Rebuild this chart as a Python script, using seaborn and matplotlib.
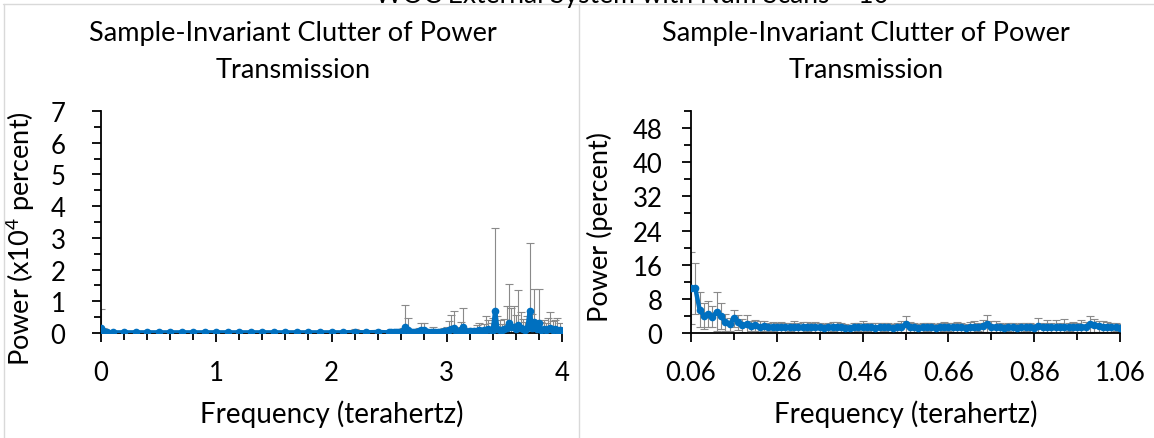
import numpy as np
import pandas as pd
import matplotlib
matplotlib.use("Agg")
import matplotlib.pyplot as plt
from matplotlib.ticker import MultipleLocator, FixedLocator
from matplotlib.lines import Line2D
import seaborn as sns

# ---------------- data ----------------
SUPTITLE = "WOC External System with Num Scans = 10"
PANEL_TITLE = "Sample-Invariant Clutter of Power\nTransmission"
XLABEL = "Frequency (terahertz)"
YLABEL_LEFT = r"Power (x10$^{4}$ percent)"
YLABEL_RIGHT = "Power (percent)"

left_freq = [0.00, 0.02, 0.05, 0.10, 0.20, 0.30, 0.40, 0.50, 0.60, 0.70, 0.80, 0.90,
             1.00, 1.10, 1.20, 1.30, 1.40, 1.50, 1.60, 1.70, 1.80, 1.90, 2.00, 2.10,
             2.20, 2.30, 2.40,
             2.50, 2.52, 2.54, 2.56, 2.58, 2.60, 2.62, 2.64, 2.66, 2.68, 2.70, 2.72,
             2.74, 2.76, 2.78, 2.80, 2.82, 2.84, 2.86, 2.88, 2.90, 2.92, 2.94, 2.96,
             2.98, 3.00, 3.02, 3.04, 3.06, 3.08, 3.10, 3.12, 3.14, 3.16, 3.18, 3.20,
             3.22, 3.24, 3.26, 3.28, 3.30, 3.32, 3.34, 3.36, 3.38, 3.40, 3.42, 3.44,
             3.46, 3.48, 3.50, 3.52, 3.54, 3.56, 3.58, 3.60, 3.62, 3.64, 3.66, 3.68,
             3.70, 3.72, 3.74, 3.76, 3.78, 3.80, 3.82, 3.84, 3.86, 3.88, 3.90, 3.92,
             3.94, 3.96, 3.98, 4.00]
left_power = [0.15, 0.05, 0.02, 0.02, 0.02, 0.02, 0.02, 0.02, 0.02, 0.02, 0.02, 0.02,
              0.02, 0.02, 0.02, 0.02, 0.02, 0.02, 0.02, 0.02, 0.02, 0.02, 0.02, 0.02,
              0.03, 0.02, 0.03,
              0.02, 0.02, 0.02, 0.03, 0.02, 0.03, 0.05, 0.20, 0.10, 0.03, 0.02, 0.03,
              0.02, 0.05, 0.08, 0.10, 0.03, 0.02, 0.03, 0.04, 0.02, 0.03, 0.02, 0.04,
              0.05, 0.06, 0.10, 0.14, 0.16, 0.06, 0.04, 0.10, 0.20, 0.05, 0.04, 0.05,
              0.03, 0.05, 0.06, 0.08, 0.05, 0.08, 0.10, 0.12, 0.08, 0.10, 0.70, 0.12,
              0.10, 0.08, 0.12, 0.15, 0.30, 0.20, 0.18, 0.12, 0.25, 0.15, 0.12, 0.10,
              0.15, 0.70, 0.15, 0.35, 0.12, 0.30, 0.10, 0.12, 0.08, 0.12, 0.15, 0.10,
              0.12, 0.08, 0.10, 0.05]
left_err = [0.60, 0.10, 0.02, 0.01, 0.01, 0.01, 0.01, 0.01, 0.01, 0.01, 0.01, 0.01,
            0.01, 0.01, 0.01, 0.01, 0.01, 0.01, 0.01, 0.01, 0.01, 0.01, 0.01, 0.01,
            0.10, 0.02, 0.08,
            0.02, 0.02, 0.02, 0.03, 0.02, 0.04, 0.10, 0.68, 0.38, 0.05, 0.04, 0.06,
            0.05, 0.12, 0.22, 0.20, 0.08, 0.05, 0.06, 0.14, 0.06, 0.05, 0.04, 0.08,
            0.10, 0.14, 0.28, 0.44, 0.52, 0.12, 0.08, 0.25, 0.60, 0.10, 0.08, 0.12,
            0.06, 0.10, 0.20, 0.24, 0.12, 0.20, 0.44, 0.30, 0.22, 0.36, 2.60, 0.42,
            0.30, 0.20, 0.32, 0.70, 1.25, 0.60, 0.66, 0.45, 1.10, 0.50, 0.32, 0.25,
            0.40, 2.15, 0.45, 1.05, 0.30, 1.10, 0.25, 0.30, 0.22, 0.35, 0.50, 0.28,
            0.30, 0.40, 0.22, 0.15]

right_freq = [0.06, 0.07, 0.08, 0.09, 0.10, 0.11, 0.12, 0.13, 0.14, 0.15, 0.16, 0.17,
              0.18, 0.19, 0.20, 0.21, 0.22, 0.23, 0.24, 0.25, 0.26, 0.27, 0.28, 0.29,
              0.30, 0.31, 0.32, 0.33, 0.34, 0.35, 0.36, 0.37, 0.38, 0.39, 0.40, 0.41,
              0.42, 0.43, 0.44, 0.45, 0.46, 0.47, 0.48, 0.49, 0.50, 0.51, 0.52, 0.53,
              0.54, 0.55, 0.56, 0.57, 0.58, 0.59, 0.60, 0.61, 0.62, 0.63, 0.64, 0.65,
              0.66, 0.67, 0.68, 0.69, 0.70, 0.71, 0.72, 0.73, 0.74, 0.75, 0.76, 0.77,
              0.78, 0.79, 0.80, 0.81, 0.82, 0.83, 0.84, 0.85, 0.86, 0.87, 0.88, 0.89,
              0.90, 0.91, 0.92, 0.93, 0.94, 0.95, 0.96, 0.97, 0.98, 0.99, 1.00, 1.01,
              1.02, 1.03, 1.04, 1.05, 1.06]
right_power = [10.5, 10.5, 5.5, 4.0, 4.5, 3.8, 5.0, 4.0, 2.5, 2.0, 3.5, 2.5,
               1.8, 2.0, 1.6, 1.8, 1.5, 1.6, 1.4, 1.5, 1.3, 1.4, 1.3, 1.4,
               1.5, 1.3, 1.4, 1.5, 1.3, 1.4, 1.3, 1.2, 1.3, 1.5, 1.4, 1.3,
               1.2, 1.1, 1.3, 1.4, 1.5, 1.4, 1.3, 1.2, 1.3, 1.4, 1.3, 1.2,
               1.3, 1.5, 2.0, 1.4, 1.3, 1.2, 1.3, 1.4, 1.3, 1.2, 1.3, 1.5,
               1.4, 1.3, 1.4, 1.3, 1.2, 1.4, 1.5, 1.4, 1.6, 2.2, 1.5, 1.4,
               1.3, 1.2, 1.4, 1.3, 1.2, 1.3, 1.4, 1.3, 1.2, 1.6, 1.3, 1.5,
               1.3, 1.4, 1.3, 1.5, 1.4, 1.4, 1.3, 1.5, 1.4, 2.0, 1.8, 1.6,
               1.5, 1.4, 1.3, 1.4, 1.2]
right_err = [8.5, 6.0, 4.0, 3.0, 3.0, 2.5, 4.5, 3.0, 2.0, 1.5, 2.0, 1.8,
             1.5, 2.3, 1.2, 1.3, 1.2, 1.1, 1.0, 1.1, 1.0, 1.1, 1.0, 1.0,
             1.2, 1.0, 1.1, 1.0, 1.0, 1.2, 1.0, 0.9, 1.0, 1.0, 1.1, 1.0,
             0.9, 0.8, 1.0, 1.0, 1.2, 1.0, 1.0, 1.1, 1.0, 1.0, 1.0, 0.9,
             1.0, 1.2, 2.0, 1.1, 1.0, 0.9, 1.0, 1.0, 1.0, 0.9, 1.0, 1.1,
             1.0, 1.0, 1.1, 1.0, 0.9, 1.2, 1.3, 1.0, 1.4, 2.0, 1.2, 1.3,
             1.0, 0.9, 1.0, 1.0, 0.9, 1.0, 1.0, 1.0, 0.9, 1.9, 1.0, 1.5,
             1.0, 1.6, 1.0, 1.7, 1.0, 1.2, 1.0, 1.5, 1.2, 2.0, 1.5, 1.3,
             1.2, 1.1, 1.0, 1.0, 0.9]

left_xticks = [0, 1, 2, 3, 4]
left_yticks = [0, 1, 2, 3, 4, 5, 6, 7]
right_xticks = [0.06, 0.26, 0.46, 0.66, 0.86, 1.06]
right_yticks = [0, 8, 16, 24, 32, 40, 48]

# ---------------- style ----------------
sns.set_theme(style="white")
plt.rcParams["font.family"] = ["Lato", "DejaVu Sans"]
plt.rcParams["mathtext.fontset"] = "custom"
plt.rcParams["mathtext.rm"] = "Lato"
plt.rcParams["mathtext.it"] = "Lato:italic"
plt.rcParams["mathtext.bf"] = "Lato:bold"

BLUE = "#0070C0"
ERR = "#8a8a8a"
BORDER = "#d9d9d9"

W, H = 1154, 439
fig = plt.figure(figsize=(W / 100, H / 100), dpi=100)
fig.patch.set_facecolor("white")


def fx(px):
    return px / W


def fy(py):
    return 1 - py / H


axL = fig.add_axes([fx(101), fy(334), fx(562 - 101), (334 - 112) / H])
axR = fig.add_axes([fx(691), fy(334), fx(1120 - 691), (334 - 112) / H])

dfL = pd.DataFrame({"freq": left_freq, "power": left_power, "err": left_err})
dfR = pd.DataFrame({"freq": right_freq, "power": right_power, "err": right_err})

for ax, df in [(axL, dfL), (axR, dfR)]:
    ax.errorbar(df["freq"], df["power"], yerr=df["err"], fmt="none",
                ecolor=ERR, elinewidth=0.8, capsize=2.8, capthick=0.8, zorder=2)
    sns.lineplot(data=df, x="freq", y="power", ax=ax, color=BLUE, marker="o",
                 markersize=5.5, markeredgewidth=0, linewidth=3.2, errorbar=None,
                 zorder=3, legend=False)

# Left axis formatting
axL.set_xlim(0, 4)
axL.set_ylim(0, 7)
axL.xaxis.set_major_locator(FixedLocator(left_xticks))
axL.xaxis.set_minor_locator(MultipleLocator(0.2))
axL.yaxis.set_major_locator(FixedLocator(left_yticks))
axL.yaxis.set_minor_locator(MultipleLocator(0.5))
axL.set_xticklabels([str(t) for t in left_xticks])
axL.set_yticklabels([str(t) for t in left_yticks])

# Right axis formatting
axR.set_xlim(0.06, 1.06)
axR.set_ylim(0, 52)
axR.xaxis.set_major_locator(FixedLocator(right_xticks))
axR.xaxis.set_minor_locator(FixedLocator([0.16, 0.36, 0.56, 0.76, 0.96]))
axR.yaxis.set_major_locator(FixedLocator(right_yticks))
axR.yaxis.set_minor_locator(MultipleLocator(4))
axR.set_xticklabels([f"{t:.2f}" for t in right_xticks])
axR.set_yticklabels([str(t) for t in right_yticks])

for ax, ypad in [(axL, 19), (axR, 14)]:
    for side in ["top", "right"]:
        ax.spines[side].set_visible(False)
    for side in ["left", "bottom"]:
        ax.spines[side].set_color("black")
        ax.spines[side].set_linewidth(1.3)
    ax.set_facecolor("white")
    ax.grid(False)
    ax.tick_params(axis="both", which="major", direction="out", length=6.5,
                   width=1.3, color="black", labelsize=18.5, labelcolor="black")
    ax.tick_params(axis="both", which="minor", direction="out", length=5,
                   width=1.3, color="black")
    ax.tick_params(axis="x", which="major", pad=13)
    ax.tick_params(axis="y", which="major", pad=ypad)
    ax.tick_params(axis="both", which="both", bottom=True, left=True)
    ax.set_xlabel(XLABEL, fontsize=20, color="black", labelpad=10)
    ax.set_ylabel("")

axL.set_ylabel(YLABEL_LEFT, fontsize=19.5, color="black")
axL.yaxis.set_label_coords((37 - 101) / (562 - 101), 0.43)
axR.set_ylabel(YLABEL_RIGHT, fontsize=19.5, color="black")
axR.yaxis.set_label_coords((613 - 691) / (1120 - 691), 0.48)

# Panel titles
fig.text(fx(293), fy(52), PANEL_TITLE, ha="center", va="center", fontsize=19.5,
         color="black", linespacing=1.6)
fig.text(fx(866), fy(52), PANEL_TITLE, ha="center", va="center", fontsize=19.5,
         color="black", linespacing=1.6)

# Overall title, cut off at the top edge as in the reference
fig.text(fx(632), fy(3), SUPTITLE, ha="center", va="baseline", fontsize=19,
         color="black")

# Panel borders
fig.add_artist(Line2D([fx(3), fx(1154)], [fy(5), fy(5)], color=BORDER, lw=1))
fig.add_artist(Line2D([fx(4), fx(4)], [fy(5), fy(439)], color=BORDER, lw=1))
fig.add_artist(Line2D([fx(579), fx(579)], [fy(5), fy(439)], color=BORDER, lw=1))

fig.savefig("out.png", dpi=100, facecolor="white")
